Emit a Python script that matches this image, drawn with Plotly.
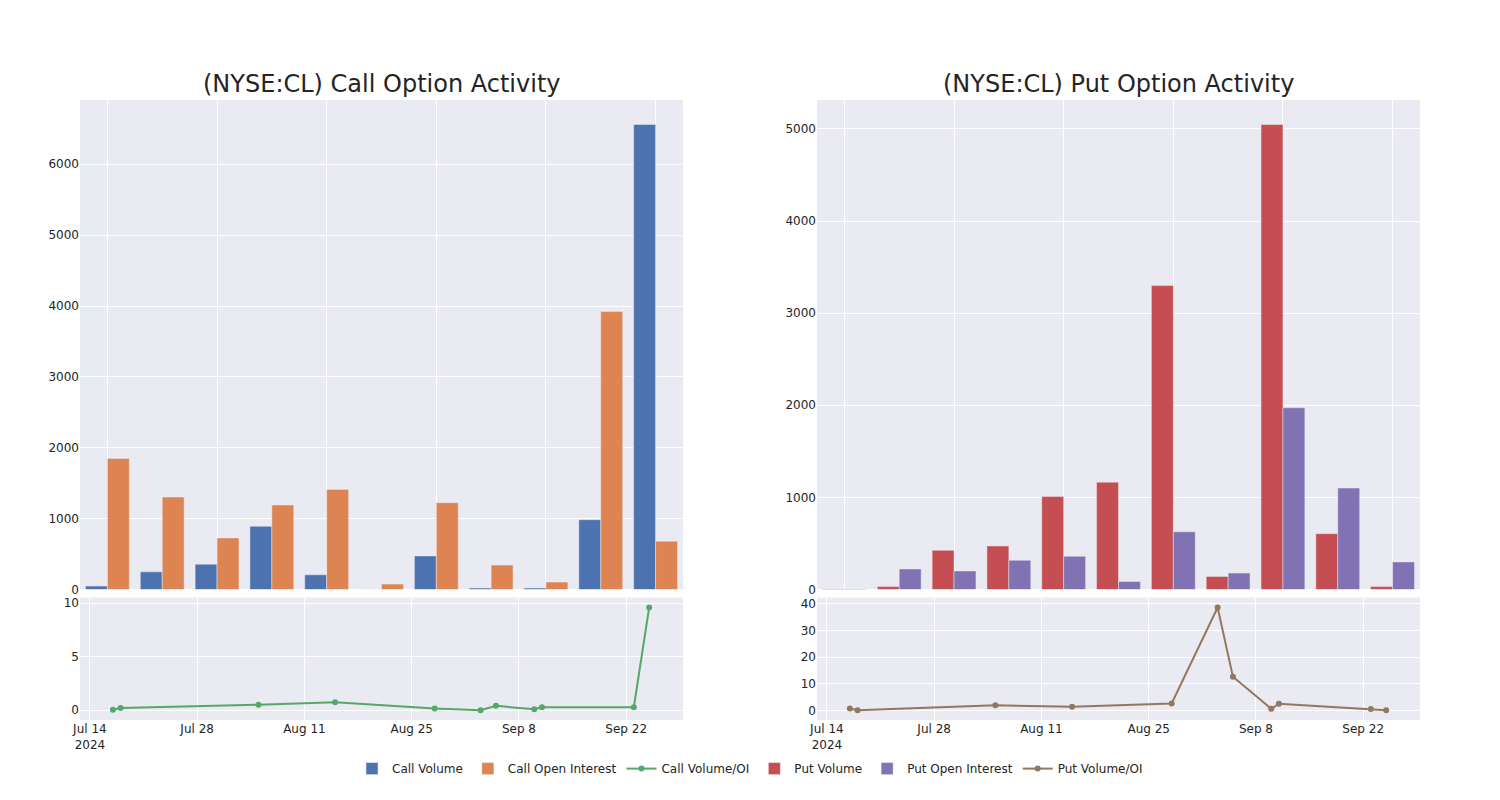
import plotly.graph_objects as go
from plotly.subplots import make_subplots

# Weekly bar data
week_dates = ["2024-07-14", "2024-07-21", "2024-07-28", "2024-08-04", "2024-08-11",
              "2024-08-18", "2024-08-25", "2024-09-01", "2024-09-08", "2024-09-15",
              "2024-09-22"]
call_volume = [49, 250, 358, 893, 208, 0, 475, 21, 21, 986, 6561]
call_oi = [1850, 1305, 729, 1193, 1413, 77, 1225, 345, 105, 3921, 682]
put_volume = [5, 32, 426, 473, 1011, 1166, 3300, 143, 5048, 607, 32]
put_oi = [5, 223, 202, 318, 361, 87, 627, 179, 1973, 1102, 300]

# Daily ratio data
ratio_dates = ["2024-07-17", "2024-07-18", "2024-08-05", "2024-08-15", "2024-08-28",
               "2024-09-03", "2024-09-05", "2024-09-10", "2024-09-11", "2024-09-23",
               "2024-09-25"]
call_vol_oi = [0.03, 0.19, 0.5, 0.74, 0.15, 0.0, 0.4, 0.09, 0.28, 0.28, 9.6]
put_vol_oi = [0.75, 0.1, 1.9, 1.4, 2.6, 38.6, 12.6, 0.6, 2.5, 0.5, 0.1]

titles = ["(NYSE:CL) Call Option Activity", "(NYSE:CL) Put Option Activity"]

fig = make_subplots(rows=2, cols=2, row_heights=[0.8, 0.2],
                    vertical_spacing=0.013, horizontal_spacing=0.1,
                    subplot_titles=titles)

fig.add_trace(go.Bar(x=week_dates, y=call_volume, name="Call Volume"), row=1, col=1)
fig.add_trace(go.Bar(x=week_dates, y=call_oi, name="Call Open Interest"), row=1, col=1)
fig.add_trace(go.Scatter(x=ratio_dates, y=call_vol_oi, mode="lines+markers",
                         name="Call Volume/OI"), row=2, col=1)
fig.add_trace(go.Bar(x=week_dates, y=put_volume, name="Put Volume"), row=1, col=2)
fig.add_trace(go.Bar(x=week_dates, y=put_oi, name="Put Open Interest"), row=1, col=2)
fig.add_trace(go.Scatter(x=ratio_dates, y=put_vol_oi, mode="lines+markers",
                         name="Put Volume/OI"), row=2, col=2)

fig.update_layout(
    template="seaborn",
    width=1500, height=800,
    font=dict(family="DejaVu Sans", size=12),
    barmode="group",
    margin=dict(l=72, r=88, t=92, b=88),
    legend=dict(orientation="h", x=0.5, xanchor="center", y=-0.055, yanchor="top"),
)
for ann in fig.layout.annotations:
    ann.font.size = 24

fig.update_xaxes(showticklabels=False, row=1, col=1)
fig.update_xaxes(showticklabels=False, row=1, col=2)
bottom_range = ["2024-07-12 17:00", "2024-09-29 10:00"]
fig.update_xaxes(range=bottom_range, row=2, col=1)
fig.update_xaxes(range=bottom_range, row=2, col=2)

fig.write_html("out.html")
